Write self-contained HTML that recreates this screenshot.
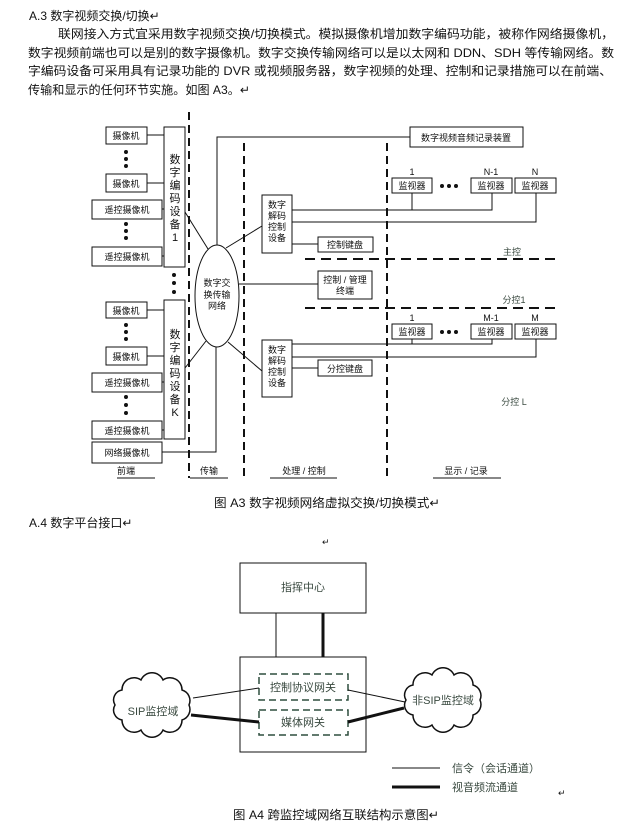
<!DOCTYPE html>
<html><head><meta charset="utf-8"><style>
html,body{margin:0;padding:0;background:#fff;}
svg{display:block;}
text{font-family:"Liberation Sans","Noto Sans CJK SC",sans-serif;}
.t{font-size:12px;fill:#111;}
.d{font-size:9px;fill:#111;}
.g{font-size:11px;fill:#3a4a40;}
</style></head><body>
<svg width="624" height="828" viewBox="0 0 624 828" xmlns="http://www.w3.org/2000/svg">
<rect width="624" height="828" fill="#fff"/>
<text class="t" x="29" y="20">A.3 数字视频交换/切换↵</text>
<text class="t" x="58" y="38" textLength="556" lengthAdjust="spacingAndGlyphs">联网接入方式宜采用数字视频交换/切换模式。模拟摄像机增加数字编码功能，被称作网络摄像机，</text>
<text class="t" x="28" y="57" textLength="586" lengthAdjust="spacingAndGlyphs">数字视频前端也可以是别的数字摄像机。数字交换传输网络可以是以太网和 DDN、SDH 等传输网络。数</text>
<text class="t" x="28" y="75" textLength="584" lengthAdjust="spacingAndGlyphs">字编码设备可采用具有记录功能的 DVR 或视频服务器，数字视频的处理、控制和记录措施可以在前端、</text>
<text class="t" x="28" y="94" textLength="222" lengthAdjust="spacingAndGlyphs">传输和显示的任何环节实施。如图 A3。↵</text>

<g stroke="#111" fill="none" stroke-width="1">
<line x1="189" y1="112" x2="189" y2="478" stroke-width="2" stroke-dasharray="8,5"/>
<line x1="244" y1="143" x2="244" y2="478" stroke-width="2" stroke-dasharray="8,5"/>
<line x1="387" y1="143" x2="387" y2="478" stroke-width="2" stroke-dasharray="8,5"/>
<line x1="305" y1="259" x2="560" y2="259" stroke-width="2" stroke-dasharray="10,6"/>
<line x1="305" y1="308" x2="560" y2="308" stroke-width="2" stroke-dasharray="10,6"/>
<rect x="106" y="127" width="41" height="17"/>
<rect x="106" y="174" width="41" height="18"/>
<rect x="92" y="200" width="70" height="19"/>
<rect x="92" y="247" width="70" height="19"/>
<rect x="164" y="127" width="21" height="140"/>
<rect x="106" y="302" width="41" height="16"/>
<rect x="106" y="347" width="41" height="18"/>
<rect x="92" y="373" width="70" height="19"/>
<rect x="92" y="421" width="70" height="18"/>
<rect x="92" y="442" width="70" height="21"/>
<rect x="164" y="300" width="21" height="139"/>
<line x1="147" y1="135" x2="164" y2="135"/><line x1="147" y1="183" x2="164" y2="183"/>
<line x1="162" y1="209" x2="164" y2="209"/><line x1="162" y1="256" x2="164" y2="256"/>
<line x1="147" y1="310" x2="164" y2="310"/><line x1="147" y1="356" x2="164" y2="356"/>
<line x1="162" y1="382" x2="164" y2="382"/><line x1="162" y1="430" x2="164" y2="430"/>
<ellipse cx="217" cy="296" rx="22" ry="51"/>
<line x1="185" y1="212" x2="208" y2="249"/>
<line x1="185" y1="368" x2="206" y2="341"/>
<line x1="262" y1="226" x2="226" y2="248"/>
<line x1="262" y1="371" x2="228" y2="342"/>
<polyline points="162,452 216,452 216,347"/>
<polyline points="217,245 217,137 410,137"/>
<line x1="239" y1="284" x2="318" y2="284"/>
<rect x="410" y="127" width="113" height="20"/>
<rect x="262" y="195" width="30" height="58"/>
<rect x="262" y="340" width="30" height="57"/>
<rect x="318" y="237" width="55" height="15"/>
<rect x="318" y="271" width="54" height="28"/>
<rect x="318" y="360" width="54" height="16"/>
<line x1="292" y1="244" x2="318" y2="244"/>
<line x1="292" y1="368" x2="318" y2="368"/>
<rect x="392" y="178" width="40" height="15"/><rect x="471" y="178" width="41" height="15"/><rect x="515" y="178" width="41" height="15"/>
<rect x="392" y="324" width="40" height="15"/><rect x="471" y="324" width="41" height="15"/><rect x="515" y="324" width="41" height="15"/>
<polyline points="292,210 492,210 492,193"/><line x1="412" y1="193" x2="412" y2="210"/>
<polyline points="292,222 536,222 536,193"/>
<polyline points="292,344 492,344 492,339"/><line x1="412" y1="339" x2="412" y2="344"/>
<polyline points="292,357 536,357 536,339"/>
<line x1="117" y1="478" x2="155" y2="478"/><line x1="190" y1="478" x2="228" y2="478"/>
<line x1="270" y1="478" x2="337" y2="478"/><line x1="433" y1="478" x2="501" y2="478"/>
</g>
<g fill="#111">
<circle cx="126" cy="152" r="2"/><circle cx="126" cy="159" r="2"/><circle cx="126" cy="166" r="2"/>
<circle cx="126" cy="224" r="2"/><circle cx="126" cy="231" r="2"/><circle cx="126" cy="238" r="2"/>
<circle cx="174" cy="275" r="2"/><circle cx="174" cy="283" r="2"/><circle cx="174" cy="292" r="2"/>
<circle cx="126" cy="325" r="2"/><circle cx="126" cy="332" r="2"/><circle cx="126" cy="339" r="2"/>
<circle cx="126" cy="397" r="2"/><circle cx="126" cy="405" r="2"/><circle cx="126" cy="413" r="2"/>
<circle cx="442" cy="186" r="2"/><circle cx="449" cy="186" r="2"/><circle cx="456" cy="186" r="2"/>
<circle cx="442" cy="332" r="2"/><circle cx="449" cy="332" r="2"/><circle cx="456" cy="332" r="2"/>
</g>
<g class="d" text-anchor="middle">
<text x="126" y="139">摄像机</text><text x="126" y="187">摄像机</text>
<text x="127" y="213">遥控摄像机</text><text x="127" y="260">遥控摄像机</text>
<text x="126" y="314">摄像机</text><text x="126" y="360">摄像机</text>
<text x="127" y="386">遥控摄像机</text><text x="127" y="434">遥控摄像机</text>
<text x="127" y="456">网络摄像机</text>
<g style="font-size:11px">
<text x="175" y="163">数</text><text x="175" y="176">字</text><text x="175" y="189">编</text><text x="175" y="202">码</text><text x="175" y="215">设</text><text x="175" y="228">备</text><text x="175" y="241">1</text>
<text x="175" y="338">数</text><text x="175" y="351">字</text><text x="175" y="364">编</text><text x="175" y="377">码</text><text x="175" y="390">设</text><text x="175" y="403">备</text><text x="175" y="416">K</text>
</g>
<text x="217" y="286">数字交</text><text x="217" y="298">换传输</text><text x="217" y="309">网络</text>
<text x="277" y="208">数字</text><text x="277" y="219">解码</text><text x="277" y="230">控制</text><text x="277" y="241">设备</text>
<text x="277" y="353">数字</text><text x="277" y="364">解码</text><text x="277" y="375">控制</text><text x="277" y="386">设备</text>
<text x="345" y="248">控制键盘</text><text x="345" y="283">控制 / 管理</text><text x="345" y="294">终端</text>
<text x="345" y="372">分控键盘</text>
<text x="466" y="141">数字视频音频记录装置</text>
<text x="412" y="189">监视器</text><text x="491" y="189">监视器</text><text x="535" y="189">监视器</text>
<text x="412" y="335">监视器</text><text x="491" y="335">监视器</text><text x="535" y="335">监视器</text>
<text x="412" y="175">1</text><text x="491" y="175">N-1</text><text x="535" y="175">N</text>
<text x="412" y="321">1</text><text x="491" y="321">M-1</text><text x="535" y="321">M</text>
<text x="512" y="255" fill="#3a4a40">主控</text><text x="514" y="303" fill="#3a4a40">分控1</text><text x="514" y="405" fill="#3a4a40">分控 L</text>
<text x="126" y="474">前端</text><text x="209" y="474">传输</text><text x="304" y="474">处理 / 控制</text><text x="466" y="474">显示 / 记录</text>
</g>
<text x="214" y="507" style="font-size:12px;fill:#111" textLength="226" lengthAdjust="spacingAndGlyphs">图 A3  数字视频网络虚拟交换/切换模式↵</text>
<text class="t" x="29" y="527">A.4 数字平台接口↵</text>
<text class="d" x="322" y="545">↵</text>

<g stroke="#111" fill="none">
<rect x="240" y="563" width="126" height="50"/>
<rect x="240" y="657" width="126" height="95"/>
<line x1="276" y1="613" x2="276" y2="657"/>
<line x1="323" y1="613" x2="323" y2="657" stroke-width="3"/>
<rect x="259" y="674" width="89" height="26" stroke="#2f4f3f" stroke-width="1.5" stroke-dasharray="7,4"/>
<rect x="259" y="710" width="89" height="25" stroke="#2f4f3f" stroke-width="1.5" stroke-dasharray="7,4"/>
<line x1="193" y1="698" x2="259" y2="688"/>
<line x1="191" y1="715" x2="259" y2="722" stroke-width="3"/>
<line x1="348" y1="690" x2="405" y2="702"/>
<line x1="348" y1="722" x2="404" y2="708" stroke-width="3"/>
<path stroke-width="1.5" d="M189,705 A11,11 0 0,1 182,720 A12,12 0 0,1 163,730 A12,12 0 0,1 141,730 A12,12 0 0,1 122,720 A10,10 0 0,1 115,705 A10,10 0 0,1 122,690 A12,12 0 0,1 141,680 A12,12 0 0,1 163,680 A12,12 0 0,1 182,690 A11,11 0 0,1 189,705 Z"/>
<path stroke-width="1.5" transform="translate(291,-5)" d="M189,705 A11,11 0 0,1 182,720 A12,12 0 0,1 163,730 A12,12 0 0,1 141,730 A12,12 0 0,1 122,720 A10,10 0 0,1 115,705 A10,10 0 0,1 122,690 A12,12 0 0,1 141,680 A12,12 0 0,1 163,680 A12,12 0 0,1 182,690 A11,11 0 0,1 189,705 Z"/>
<line x1="392" y1="768" x2="440" y2="768"/>
<line x1="392" y1="787" x2="440" y2="787" stroke-width="3"/>
</g>
<g class="g" text-anchor="middle">
<text x="303" y="591">指挥中心</text>
<text x="303" y="691">控制协议网关</text>
<text x="303" y="726">媒体网关</text>
<text x="153" y="715">SIP监控域</text>
<text x="443" y="704">非SIP监控域</text>
</g>
<text class="g" x="452" y="772">信令（会话通道）</text>
<text class="g" x="452" y="791">视音频流通道</text>
<text class="d" x="558" y="796">↵</text>
<text x="233" y="819" style="font-size:12px;fill:#111" textLength="206" lengthAdjust="spacingAndGlyphs">图 A4  跨监控域网络互联结构示意图↵</text>
</svg>
</body></html>
